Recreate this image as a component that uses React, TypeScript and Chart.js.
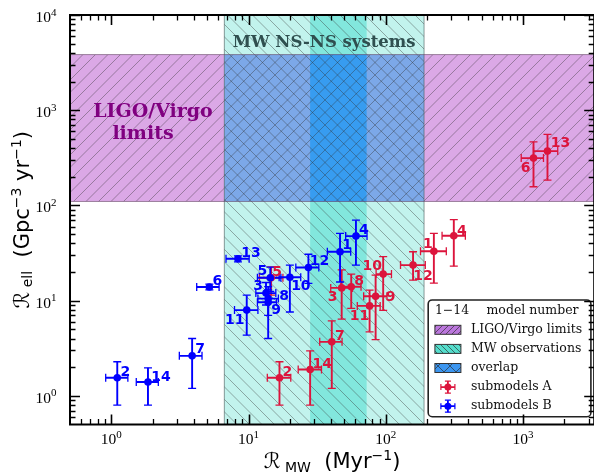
import React, { useEffect, useRef } from "react";
import { Chart, registerables } from "chart.js";

Chart.register(...registerables);

// ---------------- data ----------------
const modelIds = ["1", "2", "3", "4", "5", "6", "7", "8", "9", "10", "11", "12", "13", "14"];

// submodels A (red)
const aRateMW = [224, 16.8, 47.7, 313, 14.6, 1192, 40.4, 56, 84.3, 95.7, 76.2, 158, 1507, 28.1];
const aRateMWLo = [179, 13.7, 39.7, 257, 12.0, 970, 33, 47, 69, 85, 62, 128, 1192, 23];
const aRateMWHi = [276, 20.3, 57, 380, 17.8, 1409, 48, 66, 102, 110, 91, 194, 1790, 34];
const aRateEll = [33, 1.55, 13.6, 48, 17.4, 314, 3.69, 14, 11.1, 19, 8.8, 23.6, 372, 1.89];
const aRateEllLo = [15.3, 0.8, 6.4, 23, 11.4, 157, 1.2, 8.3, 3.9, 7.9, 4.7, 16.4, 184, 0.8];
const aRateEllHi = [50.8, 2.28, 21, 71, 22.6, 466, 6.13, 19, 18.5, 29, 12.9, 32.6, 557, 2.97];

// submodels B (blue)
const bRateMW = [46.4, 1.105, 13.4, 60.6, 14.4, 5.18, 3.88, 13.9, 13.9, 20, 9.7, 27.3, 8.37, 1.85];
const bRateMWLo = [37.5, 0.91, 11.3, 51, 11.6, 4.19, 3.13, 11.7, 11.6, 16.7, 7.9, 22.1, 6.85, 1.52];
const bRateMWHi = [55.5, 1.32, 15.8, 73, 17.2, 6.1, 4.58, 16.5, 16.0, 24, 11.7, 32.5, 10.1, 2.2];
const bRateEll = [32.6, 1.55, 12.0, 47.6, 17.4, 13.9, 2.63, 10.5, 9.6, 17.6, 7.95, 22.3, 27.5, 1.4];
const bRateEllLo = [15.7, 0.8, 9.0, 23.6, 12.5, 13.0, 1.2, 7.0, 4.0, 7.6, 4.34, 15.2, 25.5, 0.8];
const bRateEllHi = [50.8, 2.28, 15.5, 70, 22.5, 14.9, 4.0, 14.0, 13.0, 23.6, 11.4, 30.7, 29.5, 1.97];

// bands
const ligoBand = [110, 3840]; // R_ell range
const mwBand = [6.66, 190]; // R_MW range
const mwCore = [28.1, 72.5];

// axes
const xLimits = [0.5, 3300];
const yLimits = [0.5, 10000];
const xMajorTicks = [1, 10, 100, 1000];
const xTickExp = ["0", "1", "2", "3"];
const yMajorTicks = [1, 10, 100, 1000, 10000];
const yTickExp = ["0", "1", "2", "3", "4"];

// label placement (px offsets from marker)
const aLabelDx = [-6, 8, -9, 8, 6, -8, 8, 8, 15, -11, -10, 10, 13, 12];
const aLabelDy = [-8, -7, 8, -6, -7, 9, -7, -7, 0, -9, 9, 10, -9, -7];
const bLabelDx = [7, 8, -8, 8, -8, 8, 8, 16, 8, 11, -12, 11, 13, 13];
const bLabelDy = [-8, -7, -8, -7, -8, -7, -8, -4, 7, 8, 9, -7, -7, -6];

const RED = "#dc143c";
const BLUE = "#0000ff";

type Part = { t: string; f: string; dy: number };

function richWidth(ctx: CanvasRenderingContext2D, parts: Part[]) {
  let w = 0;
  for (const p of parts) {
    ctx.font = p.f;
    w += ctx.measureText(p.t).width;
  }
  return w;
}
function drawRich(ctx: CanvasRenderingContext2D, parts: Part[], x: number, y: number) {
  let cx = x;
  for (const p of parts) {
    ctx.font = p.f;
    ctx.fillText(p.t, cx, y + p.dy);
    cx += ctx.measureText(p.t).width;
  }
}

function hatchRect(
  ctx: CanvasRenderingContext2D,
  xa: number, ya: number, xb: number, yb: number,
  dir: string, s: number, color: string, lw: number
) {
  ctx.save();
  ctx.beginPath();
  ctx.rect(xa, ya, xb - xa, yb - ya);
  ctx.clip();
  ctx.strokeStyle = color;
  ctx.lineWidth = lw;
  ctx.beginPath();
  if (dir === "/") {
    const c0 = Math.floor((xa + ya) / s) * s;
    for (let c = c0; c <= xb + yb + s; c += s) {
      ctx.moveTo(c - ya, ya);
      ctx.lineTo(c - yb, yb);
    }
  } else {
    const c0 = Math.floor((xa - yb) / s) * s;
    for (let c = c0; c <= xb - ya + s; c += s) {
      ctx.moveTo(c + ya, ya);
      ctx.lineTo(c + yb, yb);
    }
  }
  ctx.stroke();
  ctx.restore();
}

function drawErrors(
  ctx: CanvasRenderingContext2D, xs: any, ys: any,
  x: number[], xLo: number[], xHi: number[],
  y: number[], yLo: number[], yHi: number[], color: string
) {
  ctx.save();
  ctx.strokeStyle = color;
  for (let i = 0; i < x.length; i++) {
    const px = xs.getPixelForValue(x[i]);
    const py = ys.getPixelForValue(y[i]);
    const x0 = xs.getPixelForValue(xLo[i]);
    const x1 = xs.getPixelForValue(xHi[i]);
    const y0 = ys.getPixelForValue(yLo[i]);
    const y1 = ys.getPixelForValue(yHi[i]);
    ctx.lineWidth = 1.9;
    ctx.beginPath();
    ctx.moveTo(x0, py);
    ctx.lineTo(x1, py);
    ctx.moveTo(px, y0);
    ctx.lineTo(px, y1);
    ctx.stroke();
    ctx.lineWidth = 1.3;
    ctx.beginPath();
    ctx.moveTo(x0, py - 4);
    ctx.lineTo(x0, py + 4);
    ctx.moveTo(x1, py - 4);
    ctx.lineTo(x1, py + 4);
    ctx.moveTo(px - 4, y0);
    ctx.lineTo(px + 4, y0);
    ctx.moveTo(px - 4, y1);
    ctx.lineTo(px + 4, y1);
    ctx.stroke();
  }
  ctx.restore();
}

const HATCH = "rgba(50,50,50,0.5)";

const backgroundPlugin = {
  id: "bandsAndErrors",
  beforeDatasetsDraw(chart: any) {
    const { ctx, chartArea: ca, scales } = chart;
    const xs = scales.x, ys = scales.y;
    ctx.save();
    ctx.beginPath();
    ctx.rect(ca.left, ca.top, ca.right - ca.left, ca.bottom - ca.top);
    ctx.clip();
    const x0 = xs.getPixelForValue(mwBand[0]);
    const x1 = xs.getPixelForValue(mwBand[1]);
    const c0 = xs.getPixelForValue(mwCore[0]);
    const c1 = xs.getPixelForValue(mwCore[1]);
    const yT = ys.getPixelForValue(ligoBand[1]);
    const yB = ys.getPixelForValue(ligoBand[0]);
    // MW band
    ctx.fillStyle = "#c2f3ed";
    ctx.fillRect(x0, ca.top, x1 - x0, ca.bottom - ca.top);
    ctx.fillStyle = "#82e7dd";
    ctx.fillRect(c0, ca.top, c1 - c0, ca.bottom - ca.top);
    // LIGO band
    ctx.fillStyle = "#dba8e6";
    ctx.fillRect(ca.left, yT, x0 - ca.left, yB - yT);
    ctx.fillRect(x1, yT, ca.right - x1, yB - yT);
    // overlap
    ctx.fillStyle = "#7ca8e8";
    ctx.fillRect(x0, yT, x1 - x0, yB - yT);
    ctx.fillStyle = "#379cf0";
    ctx.fillRect(c0, yT, c1 - c0, yB - yT);
    // hatches
    hatchRect(ctx, x0, ca.top, x1, ca.bottom, "\\", 12.5, HATCH, 0.8);
    hatchRect(ctx, ca.left, yT, ca.right, yB, "/", 12.5, HATCH, 0.8);
    // edges
    ctx.strokeStyle = "rgba(70,90,90,0.6)";
    ctx.lineWidth = 1;
    ctx.beginPath();
    ctx.moveTo(x0, ca.top);
    ctx.lineTo(x0, ca.bottom);
    ctx.moveTo(x1, ca.top);
    ctx.lineTo(x1, ca.bottom);
    ctx.stroke();
    ctx.strokeStyle = "rgba(100,70,100,0.6)";
    ctx.beginPath();
    ctx.moveTo(ca.left, yT);
    ctx.lineTo(ca.right, yT);
    ctx.moveTo(ca.left, yB);
    ctx.lineTo(ca.right, yB);
    ctx.stroke();

    // annotations
    ctx.fillStyle = "#2f4f4f";
    ctx.font = "bold 16.5px 'DejaVu Serif'";
    ctx.textAlign = "center";
    ctx.textBaseline = "alphabetic";
    ctx.fillText("MW NS-NS systems", (x0 + x1) / 2, ca.top + 32);
    ctx.fillStyle = "#800080";
    ctx.font = "bold 19px 'DejaVu Serif'";
    const y3 = ys.getPixelForValue(1000);
    ctx.fillText("LIGO/Virgo", ca.left + 83, y3 + 7);
    ctx.fillText("limits", ca.left + 73, y3 + 28.5);

    drawErrors(ctx, xs, ys, aRateMW, aRateMWLo, aRateMWHi, aRateEll, aRateEllLo, aRateEllHi, RED);
    drawErrors(ctx, xs, ys, bRateMW, bRateMWLo, bRateMWHi, bRateEll, bRateEllLo, bRateEllHi, BLUE);
    ctx.restore();
  },
  afterDatasetsDraw(chart: any) {
    const { ctx, scales } = chart;
    const xs = scales.x, ys = scales.y;
    ctx.save();
    ctx.font = "bold 14px 'DejaVu Sans'";
    ctx.textAlign = "center";
    ctx.textBaseline = "alphabetic";
    const drawLabels = (x: number[], y: number[], dx: number[], dy: number[], color: string) => {
      ctx.fillStyle = color;
      for (let i = 0; i < x.length; i++) {
        const px = xs.getPixelForValue(x[i]);
        const py = ys.getPixelForValue(y[i]);
        ctx.fillText(modelIds[i], px + dx[i], py + dy[i] + 5);
      }
    };
    drawLabels(aRateMW, aRateEll, aLabelDx, aLabelDy, RED);
    drawLabels(bRateMW, bRateEll, bLabelDx, bLabelDy, BLUE);
    ctx.restore();
  },
  afterDraw(chart: any) {
    const { ctx, chartArea: ca, scales } = chart;
    const xs = scales.x, ys = scales.y;
    ctx.save();

    // legend
    const lx = ca.right - 166, ly = ca.bottom - 124.5, lw = 162.7, lh = 116.7;
    ctx.beginPath();
    ctx.roundRect(lx, ly, lw, lh, 4);
    ctx.fillStyle = "rgba(255,255,255,0.95)";
    ctx.fill();
    ctx.strokeStyle = "#222";
    ctx.lineWidth = 1.6;
    ctx.stroke();
    ctx.font = "12.5px 'DejaVu Serif'";
    ctx.fillStyle = "#111";
    ctx.textAlign = "left";
    ctx.textBaseline = "middle";
    const rowY = (i: number) => ly + 10.7 + 19.1 * i;
    const sx = lx + 6.7, sw = 26, tx = lx + 42.7;
    ctx.fillText("1\u221214", sx, rowY(0));
    ctx.fillText("model number", lx + 58.3, rowY(0));
    const swatch = (i: number, fill: string, dirs: string[], s: number) => {
      const yy = rowY(i) - 4.5;
      ctx.fillStyle = fill;
      ctx.fillRect(sx, yy, sw, 9);
      for (const d of dirs) hatchRect(ctx, sx, yy, sx + sw, yy + 9, d, s, "rgba(40,40,40,0.8)", 0.8);
      ctx.strokeStyle = "#333";
      ctx.lineWidth = 1;
      ctx.strokeRect(sx, yy, sw, 9);
    };
    swatch(1, "#bb77dd", ["/"], 6);
    swatch(2, "#55ddcc", ["\\"], 6);
    swatch(3, "#3c96f0", ["/", "\\"], 12);
    ctx.fillStyle = "#111";
    ctx.fillText("LIGO/Virgo limits", tx, rowY(1));
    ctx.fillText("MW observations", tx, rowY(2));
    ctx.fillText("overlap", tx, rowY(3));
    ctx.fillText("submodels A", tx, rowY(4));
    ctx.fillText("submodels B", tx, rowY(5));
    const errMarker = (i: number, color: string) => {
      const cx = sx + 13, cy = rowY(i);
      ctx.strokeStyle = color;
      ctx.fillStyle = color;
      ctx.lineWidth = 1.8;
      ctx.beginPath();
      ctx.moveTo(cx - 7, cy);
      ctx.lineTo(cx + 7, cy);
      ctx.moveTo(cx, cy - 6);
      ctx.lineTo(cx, cy + 6);
      ctx.stroke();
      ctx.lineWidth = 1.2;
      ctx.beginPath();
      ctx.moveTo(cx - 7, cy - 3);
      ctx.lineTo(cx - 7, cy + 3);
      ctx.moveTo(cx + 7, cy - 3);
      ctx.lineTo(cx + 7, cy + 3);
      ctx.moveTo(cx - 3, cy - 6);
      ctx.lineTo(cx + 3, cy - 6);
      ctx.moveTo(cx - 3, cy + 6);
      ctx.lineTo(cx + 3, cy + 6);
      ctx.stroke();
      ctx.beginPath();
      ctx.arc(cx, cy, 3.5, 0, Math.PI * 2);
      ctx.fill();
    };
    errMarker(4, RED);
    errMarker(5, BLUE);

    // frame
    ctx.strokeStyle = "#000";
    ctx.lineWidth = 2;
    ctx.strokeRect(ca.left, ca.top, ca.right - ca.left, ca.bottom - ca.top);

    // ticks
    const minorVals = (lo: number, hi: number) => {
      const out: number[] = [];
      for (let e = -1; e <= 4; e++) {
        for (let m = 2; m <= 9; m++) {
          const v = m * Math.pow(10, e);
          if (v > lo && v < hi) out.push(v);
        }
      }
      return out;
    };
    const drawXTicks = (vals: number[], len: number, w: number) => {
      ctx.lineWidth = w;
      ctx.beginPath();
      for (const v of vals) {
        const px = Math.round(xs.getPixelForValue(v)) + 0.5;
        ctx.moveTo(px, ca.bottom);
        ctx.lineTo(px, ca.bottom - len);
        ctx.moveTo(px, ca.top);
        ctx.lineTo(px, ca.top + len);
      }
      ctx.stroke();
    };
    const drawYTicks = (vals: number[], len: number, w: number) => {
      ctx.lineWidth = w;
      ctx.beginPath();
      for (const v of vals) {
        const py = Math.round(ys.getPixelForValue(v)) + 0.5;
        ctx.moveTo(ca.left, py);
        ctx.lineTo(ca.left + len, py);
        ctx.moveTo(ca.right, py);
        ctx.lineTo(ca.right - len, py);
      }
      ctx.stroke();
    };
    drawXTicks(xMajorTicks, 10, 1.6);
    drawXTicks(minorVals(xLimits[0], xLimits[1]), 5.5, 1.3);
    drawYTicks(yMajorTicks, 10, 1.6);
    drawYTicks(minorVals(yLimits[0], yLimits[1]), 5.5, 1.3);

    // tick labels
    ctx.fillStyle = "#000";
    ctx.textAlign = "left";
    ctx.textBaseline = "alphabetic";
    const base = "15.5px 'Liberation Serif'";
    const sup = "11px 'Liberation Serif'";
    for (let i = 0; i < xMajorTicks.length; i++) {
      const parts: Part[] = [
        { t: "10", f: base, dy: 0 },
        { t: xTickExp[i], f: sup, dy: -6.5 },
      ];
      const w = richWidth(ctx, parts);
      const px = xs.getPixelForValue(xMajorTicks[i]);
      drawRich(ctx, parts, px - w / 2, ca.bottom + 19.5);
    }
    for (let i = 0; i < yMajorTicks.length; i++) {
      const parts: Part[] = [
        { t: "10", f: base, dy: 0 },
        { t: yTickExp[i], f: sup, dy: -6.5 },
      ];
      const w = richWidth(ctx, parts);
      const py = ys.getPixelForValue(yMajorTicks[i]);
      drawRich(ctx, parts, ca.left - 13.5 - w, py + 7);
    }

    // axis titles
    const big = "21px 'DejaVu Sans'";
    const small = "14px 'DejaVu Sans'";
    const xParts: Part[] = [
      { t: "\u211B", f: big, dy: 0 },
      { t: " ", f: small, dy: 0 },
      { t: "MW", f: small, dy: 3.5 },
      { t: "  (Myr", f: big, dy: 0 },
      { t: "\u22121", f: small, dy: -8 },
      { t: ")", f: big, dy: 0 },
    ];
    const xw = richWidth(ctx, xParts);
    drawRich(ctx, xParts, (ca.left + ca.right) / 2 - xw / 2, 468);

    const yParts: Part[] = [
      { t: "\u211B", f: big, dy: 0 },
      { t: " ", f: small, dy: 0 },
      { t: "ell", f: small, dy: 3.5 },
      { t: "  (Gpc", f: big, dy: 0 },
      { t: "\u22123", f: small, dy: -8 },
      { t: " yr", f: big, dy: 0 },
      { t: "\u22121", f: small, dy: -8 },
      { t: ")", f: big, dy: 0 },
    ];
    const yw = richWidth(ctx, yParts);
    ctx.translate(28.5, (ca.top + ca.bottom) / 2);
    ctx.rotate(-Math.PI / 2);
    drawRich(ctx, yParts, -yw / 2, 0);
    ctx.restore();
  },
};

export default function App() {
  const ref = useRef<HTMLCanvasElement | null>(null);
  useEffect(() => {
    document.body.style.margin = "0";
    if (!ref.current) return;
    const chart = new Chart(ref.current, {
      type: "scatter",
      data: {
        datasets: [
          {
            label: "submodels B",
            data: bRateMW.map((v, i) => ({ x: v, y: bRateEll[i] })),
            backgroundColor: BLUE,
            borderColor: BLUE,
            borderWidth: 0,
            pointRadius: 3.8,
            pointHoverRadius: 3.8,
          },
          {
            label: "submodels A",
            data: aRateMW.map((v, i) => ({ x: v, y: aRateEll[i] })),
            backgroundColor: RED,
            borderColor: RED,
            borderWidth: 0,
            pointRadius: 3.8,
            pointHoverRadius: 3.8,
          },
        ],
      },
      options: {
        responsive: false,
        maintainAspectRatio: false,
        devicePixelRatio: 1,
        animation: false,
        events: [],
        layout: { padding: { left: 70, right: 2, top: 15, bottom: 49.5 } },
        scales: {
          x: { type: "logarithmic", min: xLimits[0], max: xLimits[1], display: false },
          y: { type: "logarithmic", min: yLimits[0], max: yLimits[1], display: false },
        },
        plugins: {
          legend: { display: false },
          tooltip: { enabled: false },
        },
      },
      plugins: [backgroundPlugin],
    });
    return () => chart.destroy();
  }, []);
  return (
    <div style={{ width: 594, height: 474, overflow: "hidden", background: "#fff" }}>
      <canvas ref={ref} width={598} height={474} style={{ display: "block" }} />
    </div>
  );
}
